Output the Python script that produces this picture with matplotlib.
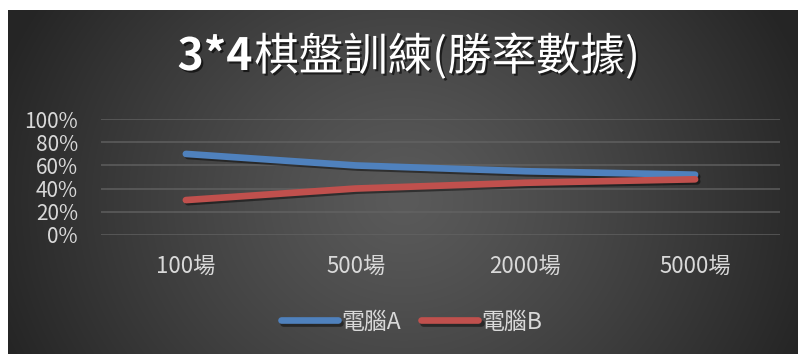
import numpy as np
import matplotlib
matplotlib.use("Agg")
import matplotlib.pyplot as plt
import matplotlib.patheffects as pe

plt.rcParams['font.family'] = ['Noto Sans CJK TC', 'DejaVu Sans']

title_head = "3*4"
title_tail = "棋盤訓練(勝率數據)"
categories = ["100場", "500場", "2000場", "5000場"]
series_names = ["電腦A", "電腦B"]
computer_a = [0.70, 0.60, 0.55, 0.52]
computer_b = [0.30, 0.40, 0.45, 0.48]
y_ticks = [0.0, 0.2, 0.4, 0.6, 0.8, 1.0]
colors = ["#4f81bd", "#c0504d"]

W, H = 799, 354
fig = plt.figure(figsize=(W / 100, H / 100), dpi=100, facecolor="white")

# radial gradient backdrop for the chart area
x0, x1, y0, y1 = 8, 798, 0, 344
bg = fig.add_axes([x0 / W, y0 / H, (x1 - x0) / W, (y1 - y0) / H])
gx, gy = np.meshgrid(np.arange(x1 - x0), np.arange(y1 - y0))
cx, cy = 395, 190
r = np.sqrt(((gx - cx) / 430.0) ** 2 + ((gy - cy) / 380.0) ** 2)
r = np.clip(r, 0, 1) ** 1.2
shade = (0x5a + (0x25 - 0x5a) * r) / 255.0
bg.imshow(np.dstack([shade, shade, shade]), aspect="auto",
          extent=(0, 1, 0, 1), origin="upper")
bg.set_axis_off()

ax = fig.add_axes([101 / W, 1 - 234.7 / H, (780 - 101) / W, (234.7 - 119.3) / H])
ax.set_facecolor("none")
x = np.arange(len(categories))

shadow = [pe.SimpleLineShadow(offset=(1.5, -1.5), shadow_color="black", alpha=0.45),
          pe.Normal()]
for vals, name, c in zip([computer_a, computer_b], series_names, colors):
    ax.plot(x, vals, color=c, lw=4.8, solid_capstyle="round",
            solid_joinstyle="round", label=name, path_effects=shadow, zorder=3)

ax.set_xlim(-0.5, len(categories) - 0.5)
ax.set_ylim(0, 1)
ax.set_yticks(y_ticks)
ax.set_yticklabels([f"{int(round(v * 100))}%" for v in y_ticks])
ax.set_xticks(x)
ax.set_xticklabels(categories)
ax.grid(axis="y", color="#646464", lw=1.2, alpha=0.8)
ax.set_axisbelow(True)
for s in ax.spines.values():
    s.set_visible(False)
ax.tick_params(axis="both", length=0, colors="#d9d9d9")
ax.tick_params(axis="y", pad=16.5, labelsize=15)
ax.tick_params(axis="x", pad=14.5, labelsize=16)

# title: bold digits followed by regular CJK text, centred as one line
title_fx = [pe.SimplePatchShadow(offset=(1.5, -1.5), shadow_rgbFace="black", alpha=0.6),
            pe.Normal()]
ty = 1 - 57 / H
t1 = fig.text(0, ty, title_head, ha="left", va="center", color="white",
              fontsize=32, fontweight="bold", path_effects=title_fx)
t2 = fig.text(0, ty, title_tail, ha="left", va="center", color="white",
              fontsize=32, fontweight="normal", path_effects=title_fx)
renderer = fig.canvas.get_renderer()
w1 = t1.get_window_extent(renderer).width / W
w2 = t2.get_window_extent(renderer).width / W
start = 408 / W - (w1 + w2) / 2
t1.set_x(start)
t2.set_x(start + w1 + 2 / W)

leg = fig.legend(loc="center", bbox_to_anchor=(411.5 / W, 1 - 322 / H), ncol=2,
                 frameon=False, fontsize=16.5, labelcolor="#d9d9d9",
                 handlelength=2.5, handletextpad=0.13, columnspacing=0.9)

fig.savefig("out.png", dpi=100, facecolor="white")
